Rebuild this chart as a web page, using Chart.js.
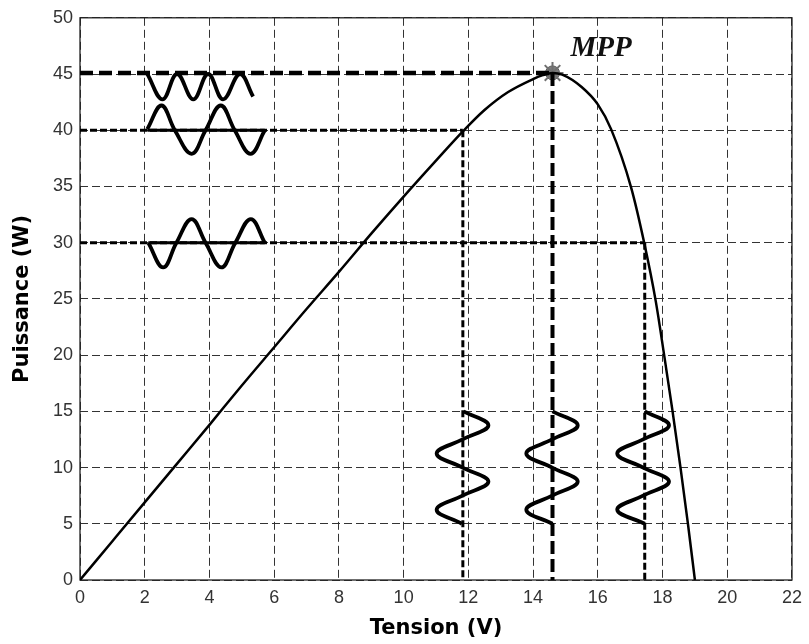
<!DOCTYPE html>
<html lang="fr">
<head>
    <meta charset="UTF-8">
    <title>Puissance - Tension (MPP)</title>
    <script src="https://cdn.jsdelivr.net/npm/chart.js"></script>
    <style>
        body {
            margin: 0;
            padding: 0;
            background-color: #ffffff;
        }
        .chart-container {
            width: 809px;
            height: 644px;
            position: relative;
        }
    </style>
</head>
<body>
    <div class="chart-container">
        <canvas id="pvChart"></canvas>
    </div>

    <script>
        // P-V curve
        const tension = [0, 1, 2, 3, 4, 5, 6, 7, 8, 9, 10, 11, 11.83, 12.5, 13.23, 14, 14.3, 14.6, 14.9, 15.5, 16, 16.41, 17.03, 17.44, 17.79, 18.05, 18.3, 18.55, 18.78, 19.0];
        const puissance = [0, 3.45, 6.9, 10.35, 13.8, 17.3, 20.7, 24.1, 27.4, 30.8, 34.1, 37.3, 39.9, 41.8, 43.4, 44.55, 44.9, 45.1, 44.95, 43.85, 42.3, 40.1, 34.9, 29.9, 24.8, 20.0, 15.2, 10.1, 5.1, 0];

        // maximum power point and two other operating points [V, W]
        const mppPoint = [14.6, 45.1];
        const point40 = [11.83, 40];
        const point30 = [17.45, 30];

        // oscillation sketches on the power axis (V, W)
        const wave45V = [2.08, 2.55, 3.0, 3.5, 3.96, 4.42, 4.94, 5.35];
        const wave45P = [45, 42.75, 45, 42.75, 45, 42.75, 45, 43.0];
        const wave40V = [2.08, 2.52, 2.93, 3.45, 3.88, 4.35, 4.78, 5.27, 5.71];
        const wave40P = [40.1, 42.2, 40, 37.9, 40, 42.2, 40, 37.9, 40];
        const wave30V = [2.11, 2.57, 2.98, 3.45, 3.88, 4.37, 4.8, 5.28, 5.71];
        const wave30P = [30, 27.8, 30, 32.1, 30, 27.8, 30, 32.1, 30];

        // oscillation sketches on the voltage axis (W, V)
        const waveTopP = [15, 13.75, 12.5, 11.25, 10, 8.75, 7.5, 6.25, 5];
        const waveA_V = [11.85, 12.62, 11.82, 11.02, 11.82, 12.62, 11.82, 11.02, 11.8];
        const waveB_V = [14.6, 15.38, 14.59, 13.79, 14.59, 15.38, 14.59, 13.79, 14.6];
        const waveC_V = [17.45, 18.2, 17.4, 16.6, 17.4, 18.2, 17.4, 16.6, 17.45];

        const xTicks = [0, 2, 4, 6, 8, 10, 12, 14, 16, 18, 20, 22];
        const yTicks = [0, 5, 10, 15, 20, 25, 30, 35, 40, 45, 50];

        function pairs(xs, ys) {
            return xs.map(function(x, i) { return { x: x, y: ys[i] }; });
        }

        function lineSet(data, width, dash, tension) {
            return {
                data: data,
                showLine: true,
                borderColor: '#000000',
                borderWidth: width,
                borderDash: dash || [],
                pointRadius: 0,
                tension: tension || 0,
                fill: false
            };
        }

        const waveA = pairs(waveA_V, waveTopP);
        const waveB = pairs(waveB_V, waveTopP);
        const waveC = pairs(waveC_V, waveTopP);

        // box around the plot area, MATLAB style
        const frame = {
            id: 'frame',
            beforeDatasetsDraw(chart) {
                const a = chart.chartArea;
                const ctx = chart.ctx;
                ctx.save();
                ctx.strokeStyle = '#222';
                ctx.lineWidth = 1.3;
                ctx.setLineDash([]);
                ctx.strokeRect(a.left, a.top, a.right - a.left, a.bottom - a.top);
                ctx.restore();
            }
        };

        const mppLabel = {
            id: 'mppLabel',
            afterDatasetsDraw(chart) {
                const ctx = chart.ctx;
                const x = chart.scales.x.getPixelForValue(16.1);
                const y = chart.scales.y.getPixelForValue(46.6);
                ctx.save();
                ctx.font = 'italic bold 29px "Liberation Serif"';
                ctx.fillStyle = '#111';
                ctx.textAlign = 'center';
                ctx.textBaseline = 'alphabetic';
                ctx.fillText('MPP', x, y);
                ctx.restore();
            }
        };

        const curve = lineSet(pairs(tension, puissance), 2.5);
        curve.cubicInterpolationMode = 'monotone';

        const ctx = document.getElementById('pvChart').getContext('2d');
        new Chart(ctx, {
            type: 'scatter',
            data: {
                datasets: [
                    // reference lines to the operating points
                    lineSet([{ x: 0, y: mppPoint[1] }, { x: mppPoint[0], y: mppPoint[1] }], 4.5, [13, 6]),
                    lineSet([{ x: mppPoint[0], y: mppPoint[1] }, { x: mppPoint[0], y: 0 }], 4, [13, 5]),
                    lineSet([{ x: 0, y: point40[1] }, { x: point40[0], y: point40[1] }], 3, [7, 3]),
                    lineSet([{ x: point40[0], y: point40[1] }, { x: point40[0], y: 0 }], 3, [7, 3]),
                    lineSet([{ x: 0, y: point30[1] }, { x: point30[0], y: point30[1] }], 3, [7, 3]),
                    lineSet([{ x: point30[0], y: point30[1] }, { x: point30[0], y: 0 }], 3, [7, 3]),
                    // solid baselines under the 40 W and 30 W oscillations
                    lineSet([{ x: wave40V[0], y: 40 }, { x: wave40V[wave40V.length - 1], y: 40 }], 3),
                    lineSet([{ x: wave30V[0], y: 30 }, { x: wave30V[wave30V.length - 1], y: 30 }], 3),
                    // oscillations
                    lineSet(pairs(wave45V, wave45P), 3.8, null, 0.4),
                    lineSet(pairs(wave40V, wave40P), 3.8, null, 0.4),
                    lineSet(pairs(wave30V, wave30P), 3.8, null, 0.4),
                    lineSet(waveA, 3.8, null, 0.4),
                    lineSet(waveB, 3.8, null, 0.4),
                    lineSet(waveC, 3.8, null, 0.4),
                    // P-V curve
                    curve,
                    // MPP marker
                    {
                        data: [{ x: mppPoint[0], y: mppPoint[1] }],
                        pointStyle: 'star',
                        pointRadius: 11,
                        borderColor: '#707070',
                        borderWidth: 2,
                        showLine: false
                    },
                    {
                        data: [{ x: mppPoint[0], y: mppPoint[1] }],
                        pointStyle: 'circle',
                        pointRadius: 7,
                        backgroundColor: '#7c7c7c',
                        borderColor: '#5a5a5a',
                        borderWidth: 1,
                        showLine: false
                    }
                ]
            },
            options: {
                responsive: true,
                maintainAspectRatio: false,
                animation: false,
                layout: {
                    padding: { left: 0, right: 14, top: 15, bottom: 0 }
                },
                plugins: {
                    legend: { display: false },
                    tooltip: { enabled: false }
                },
                scales: {
                    x: {
                        type: 'linear',
                        min: 0,
                        max: 22,
                        afterBuildTicks: function(scale) {
                            scale.ticks = xTicks.map(function(v) { return { value: v }; });
                        },
                        afterFit: function(scale) { scale.height = 64; },
                        grid: {
                            color: '#333',
                            lineWidth: 1,
                            drawTicks: false
                        },
                        border: { display: false, dash: [8, 4] },
                        ticks: {
                            padding: 7,
                            color: '#333',
                            font: { family: '"Liberation Sans", Arial, sans-serif', size: 18 }
                        },
                        title: {
                            display: true,
                            text: 'Tension (V)',
                            color: '#000',
                            padding: { top: 0, bottom: 3 },
                            font: { family: '"DejaVu Sans", sans-serif', size: 21, weight: 'bold' }
                        }
                    },
                    y: {
                        type: 'linear',
                        min: 0,
                        max: 50,
                        afterBuildTicks: function(scale) {
                            scale.ticks = yTicks.map(function(v) { return { value: v }; });
                        },
                        afterFit: function(scale) { scale.width = 80; },
                        grid: {
                            color: '#333',
                            lineWidth: 1,
                            drawTicks: false
                        },
                        border: { display: false, dash: [8, 4] },
                        ticks: {
                            padding: 7,
                            color: '#333',
                            font: { family: '"Liberation Sans", Arial, sans-serif', size: 18 }
                        },
                        title: {
                            display: true,
                            text: 'Puissance (W)',
                            color: '#000',
                            padding: { top: 10, bottom: 0 },
                            font: { family: '"DejaVu Sans", sans-serif', size: 21, weight: 'bold' }
                        }
                    }
                }
            },
            plugins: [frame, mppLabel]
        });
    </script>
</body>
</html>
